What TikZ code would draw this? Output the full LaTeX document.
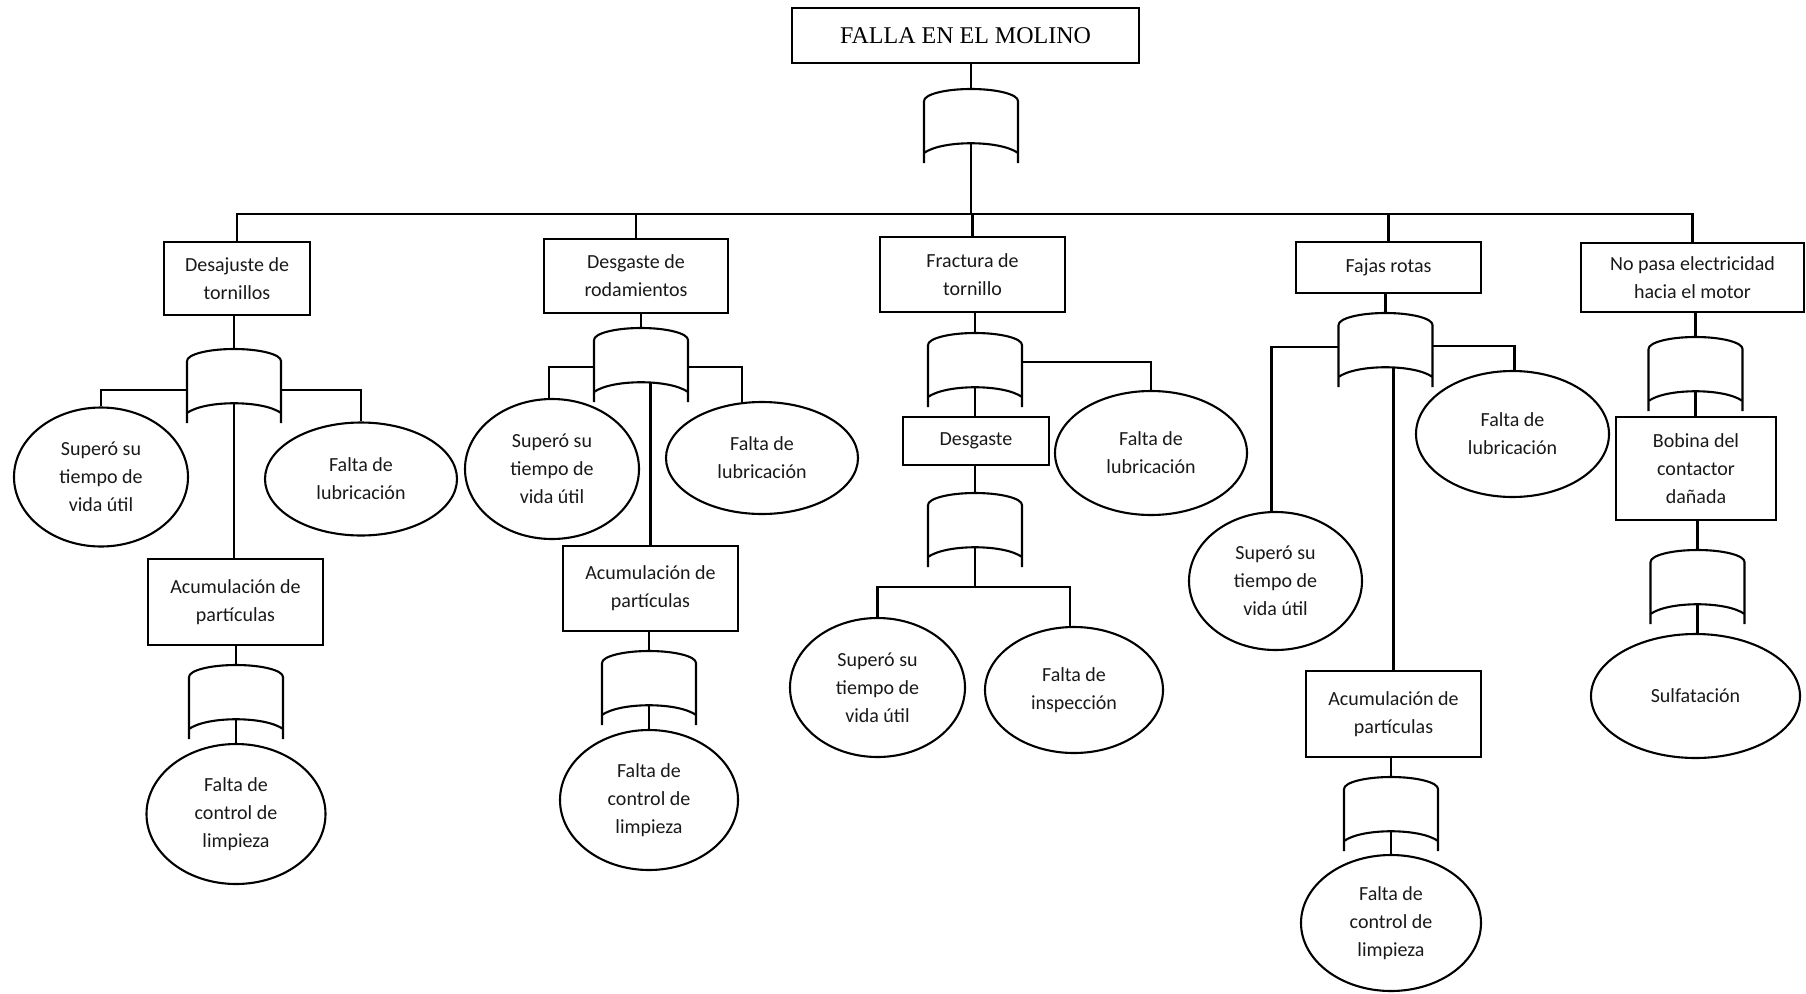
\documentclass[tikz,border=0pt]{standalone}
\usepackage{fontspec}
\setmainfont{Carlito}
\newfontfamily\titlefont{Liberation Serif}
\usetikzlibrary{shapes.geometric,calc}
\tikzset{
  txt/.style={font=\fontsize{20}{28}\selectfont, text=black!90, align=center},
  box/.style={txt, draw, rectangle, inner sep=0pt},
  ev/.style={txt, draw, ellipse, inner sep=0pt},
  gatebox/.style={rectangle, minimum width=94pt, minimum height=74pt, inner sep=0pt, outer sep=0pt, anchor=north},
}
\newcommand\gatenode[3]{%
  \node[gatebox] (#1) at (#2,#3) {};
  \draw ([yshift=-12pt]#1.north west) arc[start angle=180,end angle=0,x radius=47pt,y radius=12pt] -- (#1.south east)
        ([yshift=-12pt]#1.north west) -- (#1.south west)
        ([yshift=10pt]#1.south west) .. controls ([xshift=18pt,yshift=23pt]#1.south west) and ([xshift=-18pt,yshift=23pt]#1.south east) .. ([yshift=10pt]#1.south east);
  \coordinate (#1-b) at ([yshift=20pt]#1.south);
}
\begin{document}
\begin{tikzpicture}[x=1pt,y=-1pt,line width=2.1pt]
\useasboundingbox (0,0) rectangle (1806,993);
% top event
\node[draw, minimum width=347pt, minimum height=55pt, inner sep=0pt, font=\titlefont\fontsize{24}{28}\selectfont] (top) at (965.5,35.5) {FALLA EN EL MOLINO};
\gatenode{G0}{971}{89}
\draw (G0.north |- top.south) -- (G0.north);
\coordinate (bus) at (0,214);
% level 1
\node[box, minimum width=146pt, minimum height=73pt] (b1) at (237,278.5) {Desajuste de\\tornillos};
\node[box, minimum width=184pt, minimum height=74pt] (b2) at (636,276) {Desgaste de\\rodamientos};
\node[box, minimum width=185pt, minimum height=75pt] (b3) at (972.5,274.5) {Fractura de\\tornillo};
\node[box, minimum width=185pt, minimum height=51pt] (b4) at (1388.5,267.5) {Fajas rotas};
\node[box, minimum width=223pt, minimum height=69pt] (b5) at (1692.5,277.5) {No pasa electricidad\\hacia el motor};
\draw (G0-b) -- (G0-b |- bus);
\draw (b1.north) -- (b1.north |- bus) -- (b5.north |- bus) -- (b5.north);
\draw (b2.north |- bus) -- (b2.north);
\draw (b3.north |- bus) -- (b3.north);
\draw (b4.north |- bus) -- (b4.north);
% branch 1
\gatenode{G1}{234}{349}
\node[ev, minimum width=174pt, minimum height=139pt] (c11) at (101,477) {Superó su\\tiempo de\\vida útil};
\node[ev, minimum width=192pt, minimum height=113pt] (c12) at (361,479) {Falta de\\lubricación};
\node[box, minimum width=175pt, minimum height=86pt] (a1) at (235.5,602) {Acumulación de\\partículas};
\gatenode{G1b}{236}{665}
\node[ev, minimum width=179pt, minimum height=140pt] (c13) at (236,814) {Falta de\\control de\\limpieza};
\draw (G1.north |- b1.south) -- (G1.north);
\draw (G1.west |- 0,390) -| (c11.north);
\draw (G1.east |- 0,390) -| (c12.north);
\draw (G1-b) -- (G1-b |- a1.north);
\draw (G1b.north |- a1.south) -- (G1b.north);
\draw (G1b-b) -- (c13.north);
% branch 2
\gatenode{G2}{641}{328}
\node[ev, minimum width=174pt, minimum height=140pt] (c21) at (552,469) {Superó su\\tiempo de\\vida útil};
\node[ev, minimum width=192pt, minimum height=112pt] (c22) at (762,458) {Falta de\\lubricación};
\node[box, minimum width=175pt, minimum height=85pt] (a2) at (650.5,588.5) {Acumulación de\\partículas};
\gatenode{G2b}{649}{651}
\node[ev, minimum width=178pt, minimum height=140pt] (c23) at (649,800) {Falta de\\control de\\limpieza};
\draw (G2.north |- b2.south) -- (G2.north);
\draw (G2.west |- 0,367) -| ([xshift=-3pt]c21.north);
\draw (G2.east |- 0,367) -| ([xshift=-20pt,yshift=-1pt]c22.north);
\draw (a2.north |- G2-b) -- (a2.north);
\draw (G2b.north |- a2.south) -- (G2b.north);
\draw (G2b-b) -- (c23.north);
% branch 3
\gatenode{G3}{975}{333}
\node[box, minimum width=146pt, minimum height=48pt] (d3) at (976,441) {Desgaste};
\node[ev, minimum width=192pt, minimum height=124pt] (c32) at (1151,453) {Falta de\\lubricación};
\gatenode{G3b}{975}{493}
\node[ev, minimum width=175pt, minimum height=139pt] (c31) at (877.5,687.5) {Superó su\\tiempo de\\vida útil};
\node[ev, minimum width=178pt, minimum height=126pt] (c33) at (1074,690) {Falta de\\inspección};
\draw (G3.north |- b3.south) -- (G3.north);
\draw (G3-b) -- (G3-b |- d3.north);
\draw (G3.east |- 0,362) -| (c32.north);
\draw (G3b.north |- d3.south) -- (G3b.north);
\coordinate (bus3) at (0,587);
\draw (G3b-b) -- (G3b-b |- bus3);
\draw (c31.north) -- (c31.north |- bus3) -- ([xshift=-4pt]c33.north |- bus3) -- ([xshift=-4pt]c33.north);
% branch 4
\gatenode{G4}{1385.5}{313}
\node[ev, minimum width=173pt, minimum height=138pt] (c41) at (1275.5,581) {Superó su\\tiempo de\\vida útil};
\node[ev, minimum width=193pt, minimum height=126pt] (c42) at (1512.5,434) {Falta de\\lubricación};
\node[box, minimum width=175pt, minimum height=86pt] (a4) at (1393.5,714) {Acumulación de\\partículas};
\gatenode{G4b}{1391}{777}
\node[ev, minimum width=180pt, minimum height=136pt] (c43) at (1391,923) {Falta de\\control de\\limpieza};
\draw (G4.north |- b4.south) -- (G4.north);
\draw (G4.west |- 0,347) -| ([xshift=-4pt]c41.north);
\draw (G4.east |- 0,346) -| ([xshift=2pt]c42.north);
\draw (a4.north |- G4-b) -- (a4.north);
\draw (G4b.north |- a4.south) -- (G4b.north);
\draw (G4b-b) -- (c43.north);
% branch 5
\gatenode{G5}{1695.5}{337}
\node[box, minimum width=160pt, minimum height=103pt] (bo) at (1696,468.5) {Bobina del\\contactor\\dañada};
\gatenode{G5b}{1697.5}{550}
\node[ev, minimum width=209pt, minimum height=124pt] (su) at (1695.5,696) {Sulfatación};
\draw (G5.north |- b5.south) -- (G5.north);
\draw (G5-b) -- (G5-b |- bo.north);
\draw (G5b.north |- bo.south) -- (G5b.north);
\draw (G5b-b) -- (G5b-b |- su.north);
\end{tikzpicture}
\end{document}
